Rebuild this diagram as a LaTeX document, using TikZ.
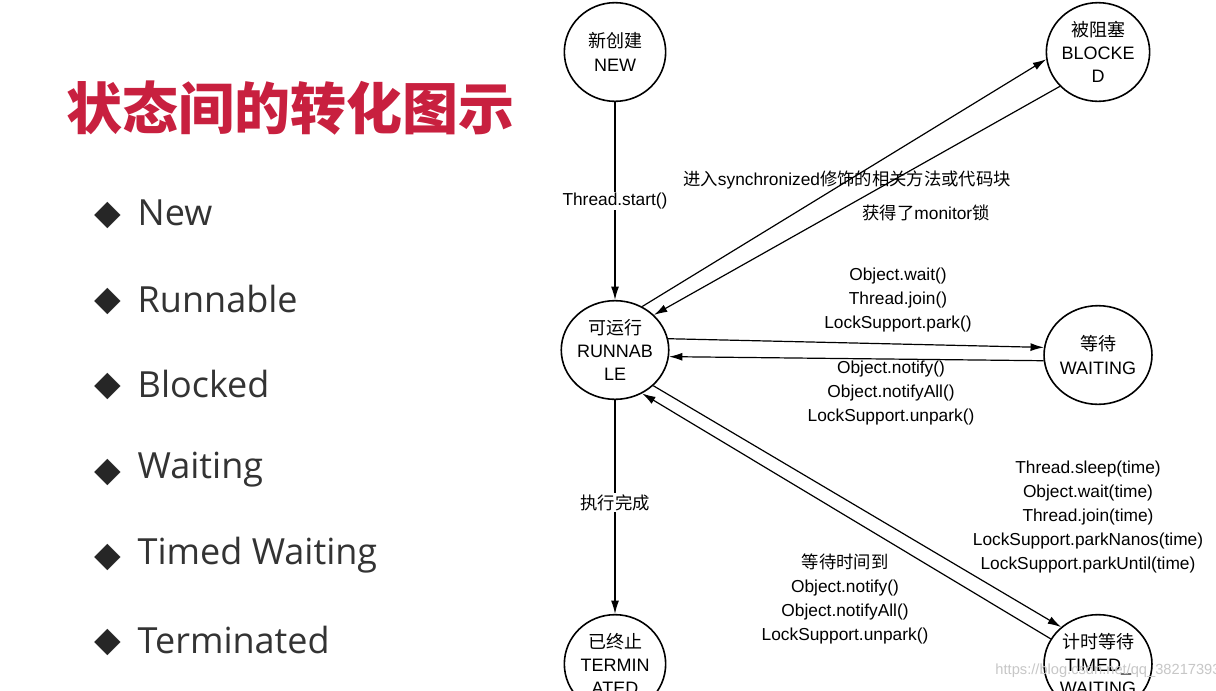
\documentclass[tikz,border=0pt]{standalone}
\usepackage{fontspec}
\setmainfont{Liberation Sans}
\newfontfamily\cjk{Noto Sans CJK SC}
\newfontfamily\listfont{Open Sans}
\newfontfamily\symfont{DejaVu Sans}
\usetikzlibrary{arrows.meta,shapes.geometric}
\definecolor{titlered}{HTML}{C8203F}
\definecolor{listgray}{HTML}{333333}
\begin{document}
\begin{tikzpicture}[x=0.75pt,y=-0.75pt,
  st/.style={draw,line width=1.2pt,ellipse,inner sep=0pt,
    minimum width=76pt,minimum height=74pt,align=center,font=\fontsize{13.5}{17.5}\selectfont},
  lbl/.style={align=center,font=\fontsize{13}{18}\selectfont,inner sep=1pt},
  ar/.style={draw,line width=0.9pt,-{Latex[length=10pt,width=6pt]}},
  item/.style={anchor=west,font=\fontsize{27}{30}\listfont,text=listgray}]
\useasboundingbox (0,0) rectangle (1216,690);
\fill[white] (0,0) rectangle (1216,690);
% title
\node[anchor=west,text=titlered,font=\fontsize{42}{46}\cjk\bfseries,inner sep=0pt] (title) at (66,108) {状态间的转化图示};
% list
\foreach \t/\yy [count=\i] in {New/213,Runnable/299,Blocked/384,Waiting/470,Timed Waiting/555,Terminated/640}{
  \node[anchor=center,font=\fontsize{26}{28}\symfont,text=black!85] (d\i) at (108,\yy+2) {◆};
  \node[item] (li\i) at (133,\yy) {\t};
}
% states
\node[st] (new) at (615,52) {{\cjk 新创建}\\NEW};
\node[st] (blk) at (1098,52) {{\cjk 被阻塞}\\BLOCKE\\D};
\node[st] (run) at (615,350) {{\cjk 可运行}\\RUNNAB\\LE};
\node[st] (wait) at (1098,355) {{\cjk 等待}\\WAITING};
\node[st] (term) at (615,664) {{\cjk 已终止}\\TERMIN\\ATED};
\node[st] (tw) at (1098,664) {{\cjk 计时等待}\\TIMED\_\\WAITING};
% connectors
\draw[ar] (new) -- node[lbl,fill=white,pos=0.5]{Thread.start()} (run);
\draw[ar] (run.58) -- (blk.188);
\draw[ar] (blk.222) -- (run.42);
\draw[ar] (run.12) -- (wait.172);
\draw[ar] (wait.186) -- (run.353);
\draw[ar] (run.-43) -- (tw.135);
\draw[ar] (tw.152) -- (run.-58);
\draw[ar] (run) -- node[lbl,fill=white,pos=0.48]{\cjk 执行完成} (term);
% labels
\node[lbl] (l1) at (847,180) {{\cjk 进入}synchronized{\cjk 修饰的相关方法或代码块}};
\node[lbl] (l2) at (926,213) {{\cjk 获得了}monitor{\cjk 锁}};
\node[lbl] (l3) at (898,300) {Object.wait()\\Thread.join()\\LockSupport.park()};
\node[lbl] (l4) at (891,393) {Object.notify()\\Object.notifyAll()\\LockSupport.unpark()};
\node[lbl] (l5) at (1088,517) {Thread.sleep(time)\\Object.wait(time)\\Thread.join(time)\\LockSupport.parkNanos(time)\\LockSupport.parkUntil(time)};
\node[lbl] (l6) at (845,599) {{\cjk 等待时间到}\\Object.notify()\\Object.notifyAll()\\LockSupport.unpark()};
\node[text=black!22,font=\fontsize{11}{13}\selectfont,inner sep=0pt] (wm) at (1108,671) {https://blog.csdn.net/qq\_38217393};
\end{tikzpicture}
\end{document}
